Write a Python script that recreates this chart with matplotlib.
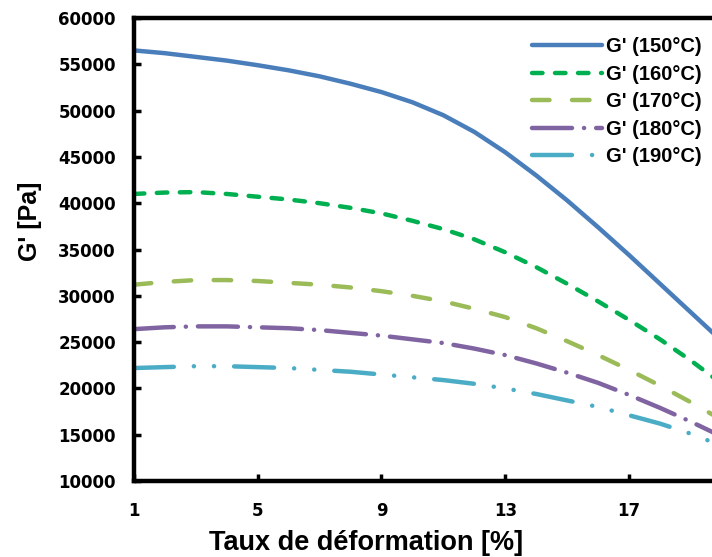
import matplotlib
matplotlib.use("Agg")
import matplotlib.pyplot as plt

strain = list(range(1, 21))
g150 = [56500, 56200, 55800, 55400, 54900, 54350, 53700, 52900, 52000, 50900,
        49500, 47700, 45500, 43000, 40300, 37400, 34400, 31300, 28200, 25100]
g160 = [41000, 41150, 41200, 41000, 40700, 40400, 40000, 39500, 38900, 38100,
        37200, 36100, 34700, 33100, 31300, 29400, 27400, 25300, 23000, 20500]
g170 = [31200, 31500, 31700, 31700, 31600, 31400, 31200, 30900, 30500, 30000,
        29400, 28600, 27700, 26500, 25100, 23600, 22000, 20300, 18500, 16600]
g180 = [26400, 26600, 26700, 26700, 26600, 26500, 26300, 26000, 25700, 25300,
        24900, 24300, 23600, 22700, 21700, 20600, 19300, 17900, 16400, 14800]
g190 = [22200, 22300, 22400, 22400, 22300, 22200, 22000, 21800, 21500, 21200,
        20900, 20500, 20000, 19400, 18700, 18000, 17100, 16200, 15100, 13800]
labels = ["G' (150°C)", "G' (160°C)", "G' (170°C)", "G' (180°C)", "G' (190°C)"]
xticks = [1, 5, 9, 13, 17]
yticks = list(range(10000, 60001, 5000))

colors = ["#4a7ebb", "#00b050", "#9bbb59", "#8064a2", "#4bacc6"]
px = 1 / 1.389
dash_styles = [
    None,
    (0, (10.5 * px, 12.5 * px)),
    (0, (17.5 * px, 22.5 * px)),
    (0, (40 * px, 12 * px, 0.1, 12 * px)),
    (0, (40 * px, 20 * px, 0.1, 20 * px, 0.1, 20 * px)),
]

plt.rcParams['lines.scale_dashes'] = False
fig = plt.figure(figsize=(7.12, 5.57), dpi=100)
ax = fig.add_axes([0.188, 0.1364, 0.812, 0.8313])

series = [g150, g160, g170, g180, g190]
for s, c, ls, lab in zip(series, colors, dash_styles, labels):
    if ls is None:
        ax.plot(strain, s, color=c, lw=3.2, solid_capstyle='round', label=lab)
    else:
        ax.plot(strain, s, color=c, lw=3.2, linestyle=ls, dash_capstyle='round', label=lab)

ax.set_xlim(1, 19.68)
ax.set_ylim(10000, 60000)
ax.set_xticks(xticks)
ax.set_yticks(yticks)
for sp in ['left', 'bottom', 'top']:
    ax.spines[sp].set_linewidth(3.2)
ax.spines['right'].set_visible(False)
ax.tick_params(direction='in', length=5, width=2.5, right=False, top=False)
ax.tick_params(axis='y', pad=13)
ax.tick_params(axis='x', pad=15)
for t in ax.get_xticklabels() + ax.get_yticklabels():
    t.set_fontfamily('DejaVu Sans')
    t.set_fontweight('bold')
    t.set_fontsize(12)

ax.set_xlabel("Taux de déformation [%]", fontfamily='Liberation Sans', fontweight='bold', fontsize=19.5)
ax.xaxis.set_label_coords(0.401, -0.105)
ax.set_ylabel("G' [Pa]", fontfamily='Liberation Sans', fontweight='bold', fontsize=18)
ax.yaxis.set_label_coords(-0.159, 0.56)

leg = ax.legend(loc='upper right', bbox_to_anchor=(1.0, 0.98), frameon=False,
                prop={'family': 'Liberation Sans', 'weight': 'bold', 'size': 14.5},
                handlelength=3.5, handletextpad=0.2, labelspacing=0.42, borderaxespad=0.1)

fig.savefig("out.png", dpi=100)
